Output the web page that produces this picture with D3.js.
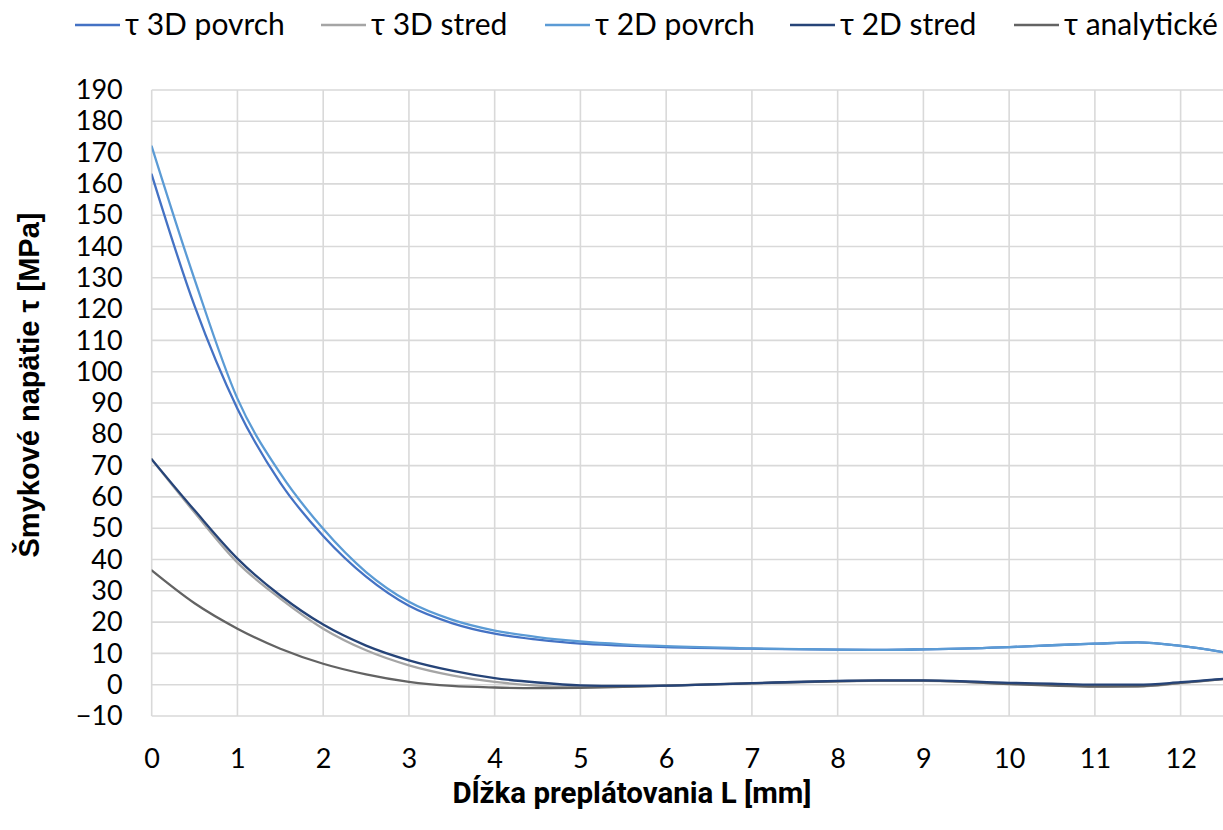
<!DOCTYPE html>
<html><head><meta charset="utf-8">
<script src="https://cdn.jsdelivr.net/npm/d3@7"></script>
<style>
html,body{margin:0;padding:0;background:#fff;}
svg{display:block;}
</style></head>
<body>
<svg id="chart" width="1223" height="830"></svg>
<script>
// ---- data ----
const xValues      = [0, 0.5, 1, 1.5, 2, 2.5, 3, 3.5, 4, 4.5, 5, 5.5, 6, 7, 8, 8.5, 9, 10, 10.5, 11, 11.5, 12, 12.5];
const tau3DPovrch  = [163, 121, 88.2, 64.5, 47.5, 34.5, 25.2, 19.7, 16.3, 14.4, 13.1, 12.5, 12.0, 11.5, 11.2, 11.1, 11.3, 12.0, 12.6, 13.1, 13.5, 12.4, 10.4];
const tau3DStred   = [72, 55, 39, 27.5, 17.9, 11, 6.2, 3, 0.9, -0.3, -0.8, -0.7, -0.3, 0.5, 1.1, 1.2, 1.2, 0.3, -0.1, -0.5, -0.5, 0.5, 1.8];
const tau2DPovrch  = [172, 129.5, 91.4, 67.5, 49.8, 36, 26.5, 20.8, 17.3, 15.2, 13.8, 12.9, 12.3, 11.6, 11.2, 11.1, 11.3, 12.0, 12.6, 13.1, 13.5, 12.4, 10.4];
const tau2DStred   = [72, 55.7, 40.3, 28.5, 19.2, 12.5, 7.8, 4.5, 2.1, 0.7, -0.2, -0.4, -0.3, 0.5, 1.2, 1.4, 1.4, 0.6, 0.3, 0, 0, 0.8, 1.9];
const tauAnalyt    = [36.5, 26, 17.9, 11.5, 6.7, 3.3, 0.9, -0.4, -0.9, -1.1, -1, -0.7, -0.3, 0.4, 1.1, 1.3, 1.3, 0.2, -0.3, -0.6, -0.5, 0.6, 1.8];
const seriesNames  = ["τ 3D povrch", "τ 3D stred", "τ 2D povrch", "τ 2D stred", "τ analytické"];
const xTicks       = [0,1,2,3,4,5,6,7,8,9,10,11,12];
const yTicks       = [-10,0,10,20,30,40,50,60,70,80,90,100,110,120,130,140,150,160,170,180,190];
const xTitle = "Dĺžka preplátovania L [mm]";
const yTitle = "Šmykové napätie τ [MPa]";

// ---- styling ----
const colors = ["#4472C4", "#A5A5A5", "#5B9BD5", "#264478", "#636363"];
const seriesData = [tau3DPovrch, tau3DStred, tau2DPovrch, tau2DStred, tauAnalyt];
const drawOrder = [1, 4, 3, 0, 2];

const svg = d3.select("#chart");
const pLeft = 151.7, pRight = 1223.5, pTop = 90, pBottom = 716;

const x = d3.scaleLinear().domain([0, 12.5]).range([pLeft, pRight]);
const y = d3.scaleLinear().domain([-10, 190]).range([pBottom, pTop]);

// gridlines
const grid = svg.append("g");
grid.selectAll("line.h").data(yTicks).join("line").attr("class", "h")
  .attr("x1", pLeft).attr("x2", pRight)
  .attr("y1", d => y(d)).attr("y2", d => y(d))
  .attr("stroke", "#D9D9D9").attr("stroke-width", 1.6);
grid.selectAll("line.v").data(xTicks).join("line").attr("class", "v")
  .attr("x1", d => x(d)).attr("x2", d => x(d))
  .attr("y1", pTop).attr("y2", pBottom)
  .attr("stroke", "#D9D9D9").attr("stroke-width", 1.6);

// axes (labels only)
const font = "Lato, 'Open Sans', sans-serif";
const yAxis = svg.append("g").attr("transform", `translate(${pLeft},0)`)
  .call(d3.axisLeft(y).tickValues(yTicks).tickSize(0).tickPadding(29));
yAxis.select(".domain").remove();
yAxis.selectAll("text").attr("font-family", font).attr("font-size", 27).attr("fill", "#000");

const xAxis = svg.append("g").attr("transform", `translate(0,${pBottom})`)
  .call(d3.axisBottom(x).tickValues(xTicks).tickSize(0).tickPadding(33));
xAxis.select(".domain").remove();
xAxis.selectAll("text").attr("font-family", font).attr("font-size", 27).attr("fill", "#000");

// lines
const line = d3.line().x((d, i) => x(xValues[i])).y(d => y(d)).curve(d3.curveMonotoneX);
svg.append("defs").append("clipPath").attr("id", "clip")
  .append("rect").attr("x", pLeft).attr("y", 0).attr("width", pRight - pLeft).attr("height", 830);
const lines = svg.append("g").attr("clip-path", "url(#clip)");
drawOrder.forEach(k => {
  lines.append("path").datum(seriesData[k])
    .attr("d", line).attr("fill", "none")
    .attr("stroke", colors[k]).attr("stroke-width", 2.3)
    .attr("stroke-linejoin", "round").attr("stroke-linecap", "round");
});

// legend
const legendX = [75, 321, 545, 790, 1014];
const lg = svg.append("g");
seriesNames.forEach((name, i) => {
  lg.append("line").attr("x1", legendX[i]).attr("x2", legendX[i] + 45)
    .attr("y1", 25).attr("y2", 25).attr("stroke", colors[i]).attr("stroke-width", 2.3);
  lg.append("text").attr("x", legendX[i] + 50).attr("y", 35)
    .attr("font-family", font).attr("font-size", 30).attr("fill", "#000").text(name);
});

// axis titles
svg.append("text").attr("x", 632).attr("y", 803).attr("text-anchor", "middle")
  .attr("font-family", "Roboto, sans-serif").attr("font-weight", 700).attr("font-size", 29.5)
  .attr("fill", "#000").text(xTitle);
svg.append("text").attr("transform", "translate(39,385) rotate(-90)").attr("text-anchor", "middle")
  .attr("font-family", "'Liberation Sans', Arial, sans-serif").attr("font-weight", 700).attr("font-size", 29)
  .attr("fill", "#000").text(yTitle);
</script>
</body></html>
